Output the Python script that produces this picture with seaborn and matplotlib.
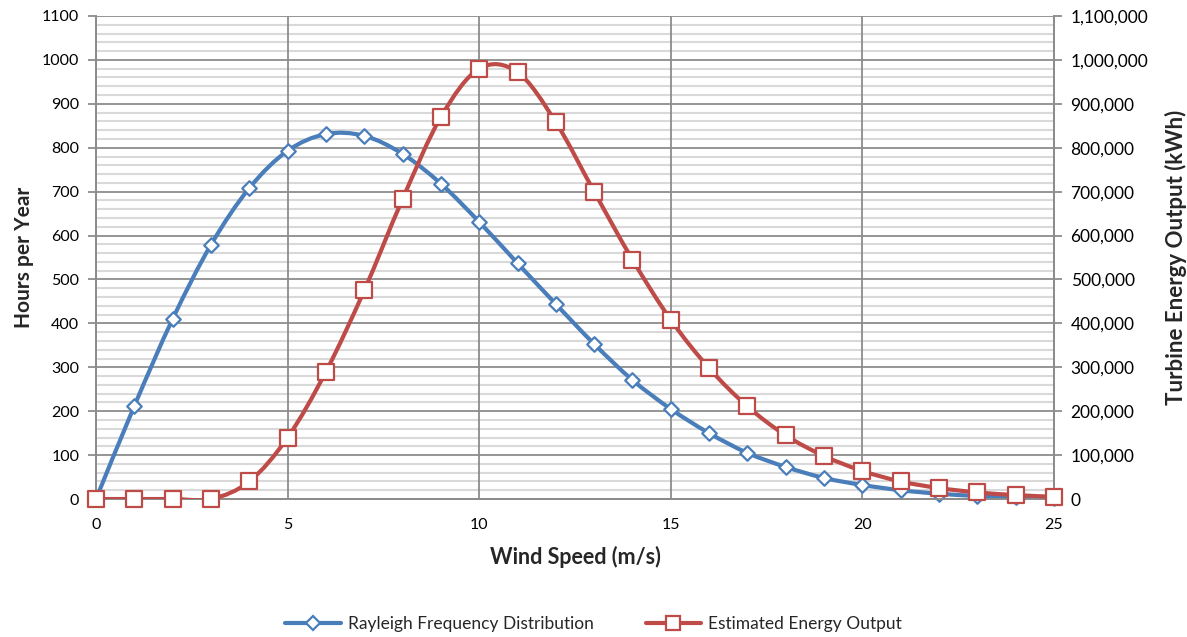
import numpy as np
import pandas as pd
import seaborn as sns
import matplotlib.pyplot as plt
from matplotlib.path import Path
from matplotlib.patches import PathPatch
from matplotlib.lines import Line2D
from matplotlib.ticker import FuncFormatter, MultipleLocator

wind_speed = list(range(0, 26))
rayleigh_hours = [0, 212, 410, 579, 708, 793, 831, 827, 786, 718, 631, 537, 444,
                  353, 271, 205, 150, 105, 73, 48, 32, 20, 12, 7, 4, 2]
energy_kwh = [0, 0, 0, 0, 40000, 140000, 290000, 475000, 683000, 870000, 980000,
              972000, 858000, 700000, 545000, 408000, 298000, 211000, 145000,
              98000, 64000, 40000, 25000, 15000, 9000, 5000]

BLUE = "#4a7ebb"
RED = "#be4b48"

sns.set_style("white")
plt.rcParams["font.family"] = ["Lato", "DejaVu Sans"]


def smooth_path(xs, ys):
    # Excel style smoothed line: Catmull-Rom segments as cubic Bezier
    xs = np.asarray(xs, float)
    ys = np.asarray(ys, float)
    n = len(xs)
    verts = [(xs[0], ys[0])]
    codes = [Path.MOVETO]
    for i in range(n - 1):
        p0 = i - 1 if i > 0 else i
        p3 = i + 2 if i + 2 < n else i + 1
        c1 = (xs[i] + (xs[i + 1] - xs[p0]) / 6, ys[i] + (ys[i + 1] - ys[p0]) / 6)
        c2 = (xs[i + 1] - (xs[p3] - xs[i]) / 6, ys[i + 1] - (ys[p3] - ys[i]) / 6)
        verts += [c1, c2, (xs[i + 1], ys[i + 1])]
        codes += [Path.CURVE4] * 3
    return Path(verts, codes)


df = pd.DataFrame({"speed": wind_speed, "hours": rayleigh_hours, "energy": energy_kwh})

fig = plt.figure(figsize=(11.87, 6.37), dpi=100)
ax = fig.add_axes([0.0809, 0.2166, 0.807, 0.7583])
ax2 = ax.twinx()

ax.add_patch(PathPatch(smooth_path(df.speed, df.hours), fill=False,
                       edgecolor=BLUE, lw=3, zorder=3))
sns.scatterplot(data=df, x="speed", y="hours", ax=ax, marker="D", s=55,
                facecolor="white", edgecolor=BLUE, linewidth=1.6, zorder=4,
                clip_on=False)

ax2.add_patch(PathPatch(smooth_path(df.speed, df.energy), fill=False,
                        edgecolor=RED, lw=3, zorder=3))
sns.scatterplot(data=df, x="speed", y="energy", ax=ax2, marker="s", s=120,
                facecolor="white", edgecolor=RED, linewidth=1.6, zorder=4,
                clip_on=False)

ax.set_xlim(0, 25)
ax.set_ylim(0, 1100)
ax2.set_ylim(0, 1100000)
ax.xaxis.set_major_locator(MultipleLocator(5))
ax.yaxis.set_major_locator(MultipleLocator(100))
ax.yaxis.set_minor_locator(MultipleLocator(20))
ax2.yaxis.set_major_locator(MultipleLocator(100000))
ax2.yaxis.set_major_formatter(FuncFormatter(lambda v, p: f"{int(v):,}"))

ax.set_axisbelow(True)
ax.grid(which="minor", axis="y", color="#d9d9d9", lw=1.5)
ax.grid(which="major", axis="y", color="#8c8c8c", lw=1.3)
ax.grid(which="major", axis="x", color="#8c8c8c", lw=1.3)
# vertical grid drawn over the light horizontal minor grid
ax.xaxis.set_zorder(0.7)

for a in (ax, ax2):
    a.spines["top"].set_visible(False)
    for side in ("left", "right", "bottom"):
        a.spines[side].set_color("#8c8c8c")
        a.spines[side].set_linewidth(1.3)
    a.tick_params(which="major", direction="out", length=6, width=1.3,
                  color="#8c8c8c", labelsize=11.5, labelcolor="black", pad=6)
    a.tick_params(which="minor", length=0)
ax.tick_params(axis="x", pad=8)
ax2.tick_params(labelsize=12.5)

ax.set_xlabel("Wind Speed (m/s)", fontsize=15.5, fontweight="bold", labelpad=10)
ax.set_ylabel("Hours per Year", fontsize=15, fontweight="bold", labelpad=6)
ax2.set_ylabel("Turbine Energy Output (kWh)", fontsize=16, fontweight="bold",
               labelpad=12)

handles = [
    Line2D([], [], color=BLUE, lw=3, marker="D", markersize=7,
           markerfacecolor="white", markeredgecolor=BLUE, markeredgewidth=1.6),
    Line2D([], [], color=RED, lw=3, marker="s", markersize=10,
           markerfacecolor="white", markeredgecolor=RED, markeredgewidth=1.6),
]
fig.legend(handles, ["Rayleigh Frequency Distribution", "Estimated Energy Output"],
           loc="center", bbox_to_anchor=(0.5, 0.02), ncol=2, frameon=False,
           fontsize=12.5, handlelength=3.2, columnspacing=3, handletextpad=0.4)

fig.savefig("out.png", dpi=100)
